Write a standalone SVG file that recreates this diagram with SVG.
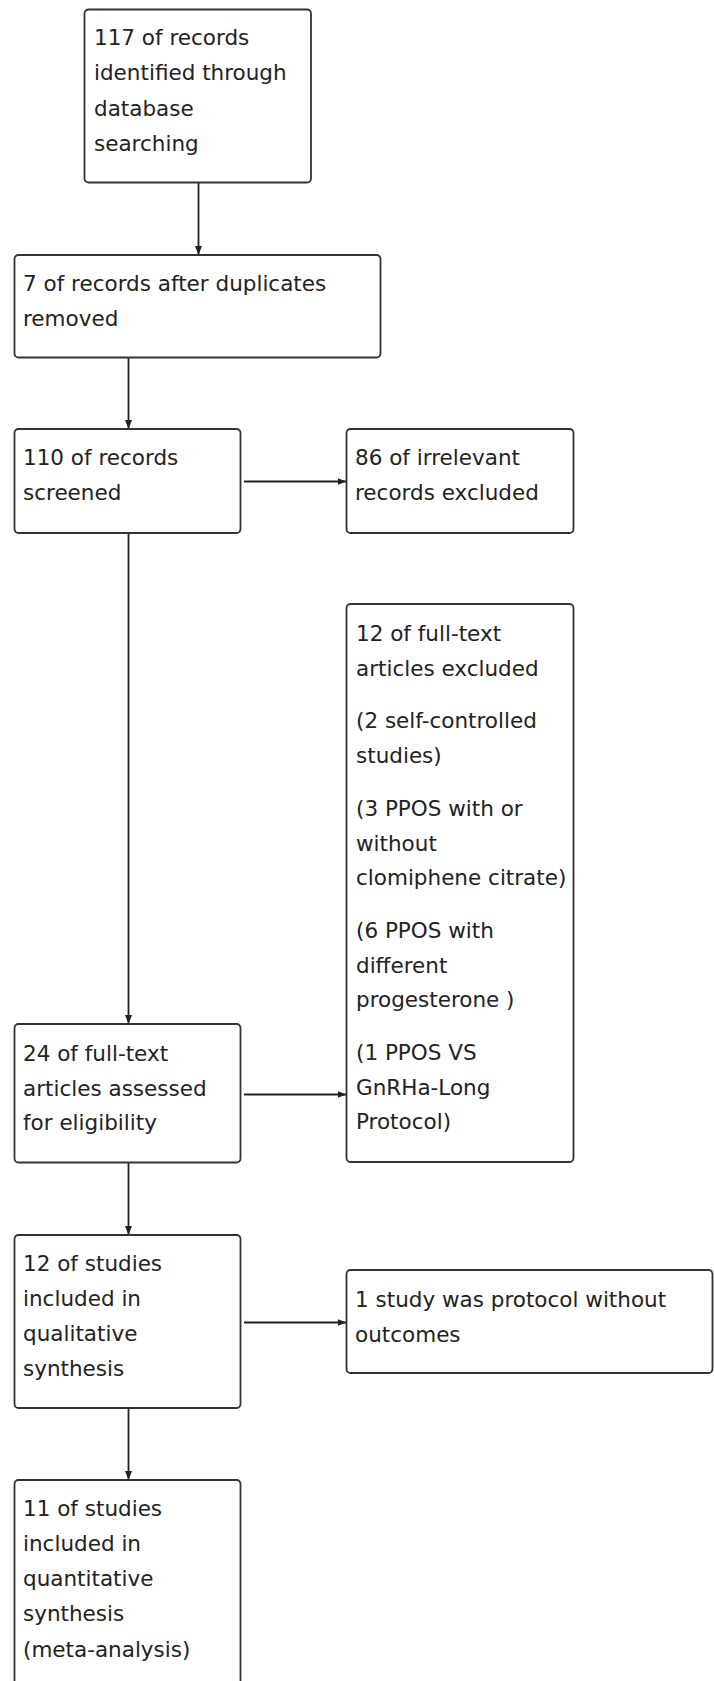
<svg xmlns="http://www.w3.org/2000/svg" width="714" height="1681" viewBox="0 0 714 1681">
<style>
.box{fill:#fff;stroke:#333;stroke-width:1.8}
.t{font-family:"DejaVu Sans",Verdana,sans-serif;font-size:21.5px;fill:#222}
.c{fill:none;stroke:#222;stroke-width:1.8}
</style>
<defs>
<marker id="ah" markerWidth="10" markerHeight="8" refX="9" refY="4" orient="auto" markerUnits="userSpaceOnUse">
<path d="M0,0.5 L9,4 L0,7.5 Z" fill="#222"/>
</marker>
</defs>
<rect width="714" height="1681" fill="#fff"/>
<g id="connectors">
<line class="c" x1="198.5" y1="182.5" x2="198.5" y2="255" marker-end="url(#ah)"/>
<line class="c" x1="128.5" y1="357.5" x2="128.5" y2="429" marker-end="url(#ah)"/>
<line class="c" x1="244" y1="481.5" x2="346.5" y2="481.5" marker-end="url(#ah)"/>
<line class="c" x1="128.5" y1="533" x2="128.5" y2="1024" marker-end="url(#ah)"/>
<line class="c" x1="244" y1="1094.5" x2="346.5" y2="1094.5" marker-end="url(#ah)"/>
<line class="c" x1="128.5" y1="1162.5" x2="128.5" y2="1235" marker-end="url(#ah)"/>
<line class="c" x1="244" y1="1322.5" x2="346.5" y2="1322.5" marker-end="url(#ah)"/>
<line class="c" x1="128.5" y1="1408" x2="128.5" y2="1480" marker-end="url(#ah)"/>
</g>
<g id="n1">
<rect class="box" x="84.5" y="9.5" width="226.5" height="173" rx="4"/>
<text class="t" x="94" y="45">117 of records</text>
<text class="t" x="94" y="80.3">identified through</text>
<text class="t" x="94" y="115.6">database</text>
<text class="t" x="94" y="150.9">searching</text>
</g>
<g id="n2">
<rect class="box" x="14.5" y="255" width="366" height="102.5" rx="4"/>
<text class="t" x="23" y="290.5">7 of records after duplicates</text>
<text class="t" x="23" y="325.5">removed</text>
</g>
<g id="n3">
<rect class="box" x="14.5" y="429" width="226" height="104" rx="4"/>
<text class="t" x="23" y="465">110 of records</text>
<text class="t" x="23" y="500">screened</text>
</g>
<g id="n4">
<rect class="box" x="346.5" y="429" width="227" height="104" rx="4"/>
<text class="t" x="355" y="465">86 of irrelevant</text>
<text class="t" x="355" y="500">records excluded</text>
</g>
<g id="n5">
<rect class="box" x="346.5" y="604" width="227" height="558" rx="4"/>
<text class="t" x="356" y="641">12 of full-text</text>
<text class="t" x="356" y="675.5">articles excluded</text>
<text class="t" x="356" y="728">(2 self-controlled</text>
<text class="t" x="356" y="763">studies)</text>
<text class="t" x="356" y="815.8">(3 PPOS with or</text>
<text class="t" x="356" y="850.5">without</text>
<text class="t" x="356" y="885.3">clomiphene citrate)</text>
<text class="t" x="356" y="938">(6 PPOS with</text>
<text class="t" x="356" y="972.7">different</text>
<text class="t" x="356" y="1007.4">progesterone )</text>
<text class="t" x="356" y="1060">(1 PPOS VS</text>
<text class="t" x="356" y="1094.7">GnRHa-Long</text>
<text class="t" x="356" y="1129.4">Protocol)</text>
</g>
<g id="n6">
<rect class="box" x="14.5" y="1024" width="226" height="138.5" rx="4"/>
<text class="t" x="23" y="1061">24 of full-text</text>
<text class="t" x="23" y="1095.5">articles assessed</text>
<text class="t" x="23" y="1130">for eligibility</text>
</g>
<g id="n7">
<rect class="box" x="14.5" y="1235" width="226" height="173" rx="4"/>
<text class="t" x="23" y="1270.5">12 of studies</text>
<text class="t" x="23" y="1305.5">included in</text>
<text class="t" x="23" y="1340.5">qualitative</text>
<text class="t" x="23" y="1375.5">synthesis</text>
</g>
<g id="n8">
<rect class="box" x="346.5" y="1270" width="366" height="103" rx="4"/>
<text class="t" x="355" y="1307">1 study was protocol without</text>
<text class="t" x="355" y="1342">outcomes</text>
</g>
<g id="n9">
<rect class="box" x="14.5" y="1480" width="226" height="230" rx="4"/>
<text class="t" x="23" y="1515.5">11 of studies</text>
<text class="t" x="23" y="1550.8">included in</text>
<text class="t" x="23" y="1586.1">quantitative</text>
<text class="t" x="23" y="1621.4">synthesis</text>
<text class="t" x="23" y="1656.7">(meta-analysis)</text>
</g>
</svg>
